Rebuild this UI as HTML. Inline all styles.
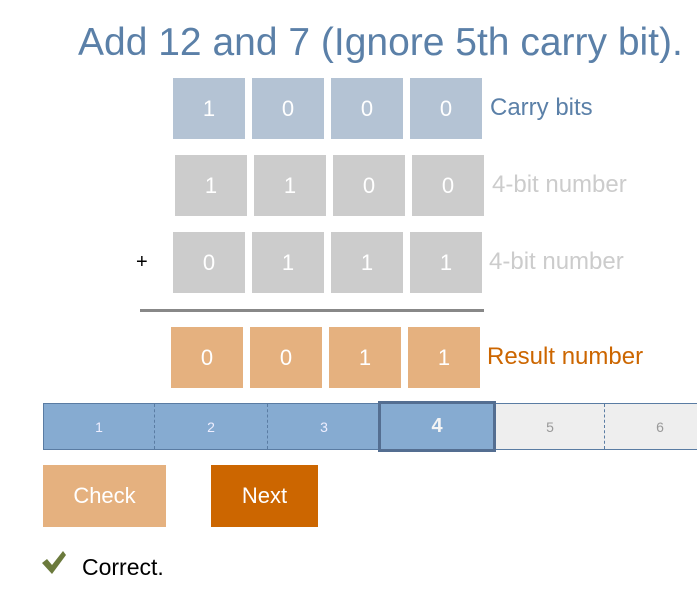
<!DOCTYPE html>
<html><head><meta charset="utf-8"><style>
body{margin:0;width:697px;height:600px;background:#fff;position:relative;overflow:hidden;font-family:"Liberation Sans",Arial,sans-serif}
.a{position:absolute}
.box{position:absolute;width:72px;height:61px;color:#fff;font-size:22px;display:flex;align-items:center;justify-content:center}
.c{background:#b4c3d4}.g{background:#cccccc}.r{background:#e5b17f}
.lab{position:absolute;font-size:24px;line-height:26px;white-space:nowrap}
.seg{position:absolute;top:404px;height:45px;display:flex;align-items:center;justify-content:center;font-size:14px;box-sizing:border-box}
.btn{position:absolute;top:465px;height:62px;color:#fff;font-size:22px;display:flex;align-items:center;justify-content:center}
</style></head><body>
<div class="a" style="left:78px;top:21px;font-size:39px;color:#5b80a8;white-space:nowrap">Add 12 and 7 (Ignore 5th carry bit).</div>

<div class="box c" style="left:173px;top:78px">1</div>
<div class="box c" style="left:252px;top:78px">0</div>
<div class="box c" style="left:331px;top:78px">0</div>
<div class="box c" style="left:410px;top:78px">0</div>
<div class="lab" style="left:490px;top:95px;color:#5b80a8">Carry bits</div>

<div class="box g" style="left:175px;top:155px">1</div>
<div class="box g" style="left:254px;top:155px">1</div>
<div class="box g" style="left:333px;top:155px">0</div>
<div class="box g" style="left:412px;top:155px">0</div>
<div class="lab" style="left:492px;top:172px;color:#cccccc">4-bit number</div>

<div class="lab" style="left:136px;top:249px;color:#000;font-size:20px">+</div>
<div class="box g" style="left:173px;top:232px">0</div>
<div class="box g" style="left:252px;top:232px">1</div>
<div class="box g" style="left:331px;top:232px">1</div>
<div class="box g" style="left:410px;top:232px">1</div>
<div class="lab" style="left:489px;top:249px;color:#cccccc">4-bit number</div>

<div class="a" style="left:140px;top:309px;width:344px;height:3px;background:#888"></div>

<div class="box r" style="left:171px;top:327px">0</div>
<div class="box r" style="left:250px;top:327px">0</div>
<div class="box r" style="left:329px;top:327px">1</div>
<div class="box r" style="left:408px;top:327px">1</div>
<div class="lab" style="left:487px;top:344px;color:#cc6600">Result number</div>

<div class="a" style="left:43px;top:403px;width:660px;height:45px;border:1px solid #5a7ca3;background:#eeeeee"></div>
<div class="seg" style="left:44px;width:111px;background:#86abd1;color:#eef;border-right:1px dashed #5a7ca3">1</div>
<div class="seg" style="left:155px;width:113px;background:#86abd1;color:#eef;border-right:1px dashed #5a7ca3">2</div>
<div class="seg" style="left:268px;width:112px;background:#86abd1;color:#eef">3</div>
<div class="seg" style="left:378px;top:401px;width:118px;height:51px;background:#86abd1;color:#f4f4f4;border:3px solid #546e91;font-size:20px;font-weight:bold">4</div>
<div class="seg" style="left:496px;width:109px;color:#999;border-right:1px dashed #5a7ca3">5</div>
<div class="seg" style="left:605px;width:110px;color:#999">6</div>

<div class="btn" style="left:43px;width:123px;background:#e5b17f">Check</div>
<div class="btn" style="left:211px;width:107px;background:#cc6600">Next</div>

<svg class="a" style="left:42px;top:550px" width="24" height="26" viewBox="0 0 24 26"><path d="M0 13 L5 9 L10 15 L21 1 L24 5 L10 24 Z" fill="#6b7a3c"/></svg>
<div class="lab" style="left:82px;top:554px;color:#000;font-size:23px">Correct.</div>
</body></html>
